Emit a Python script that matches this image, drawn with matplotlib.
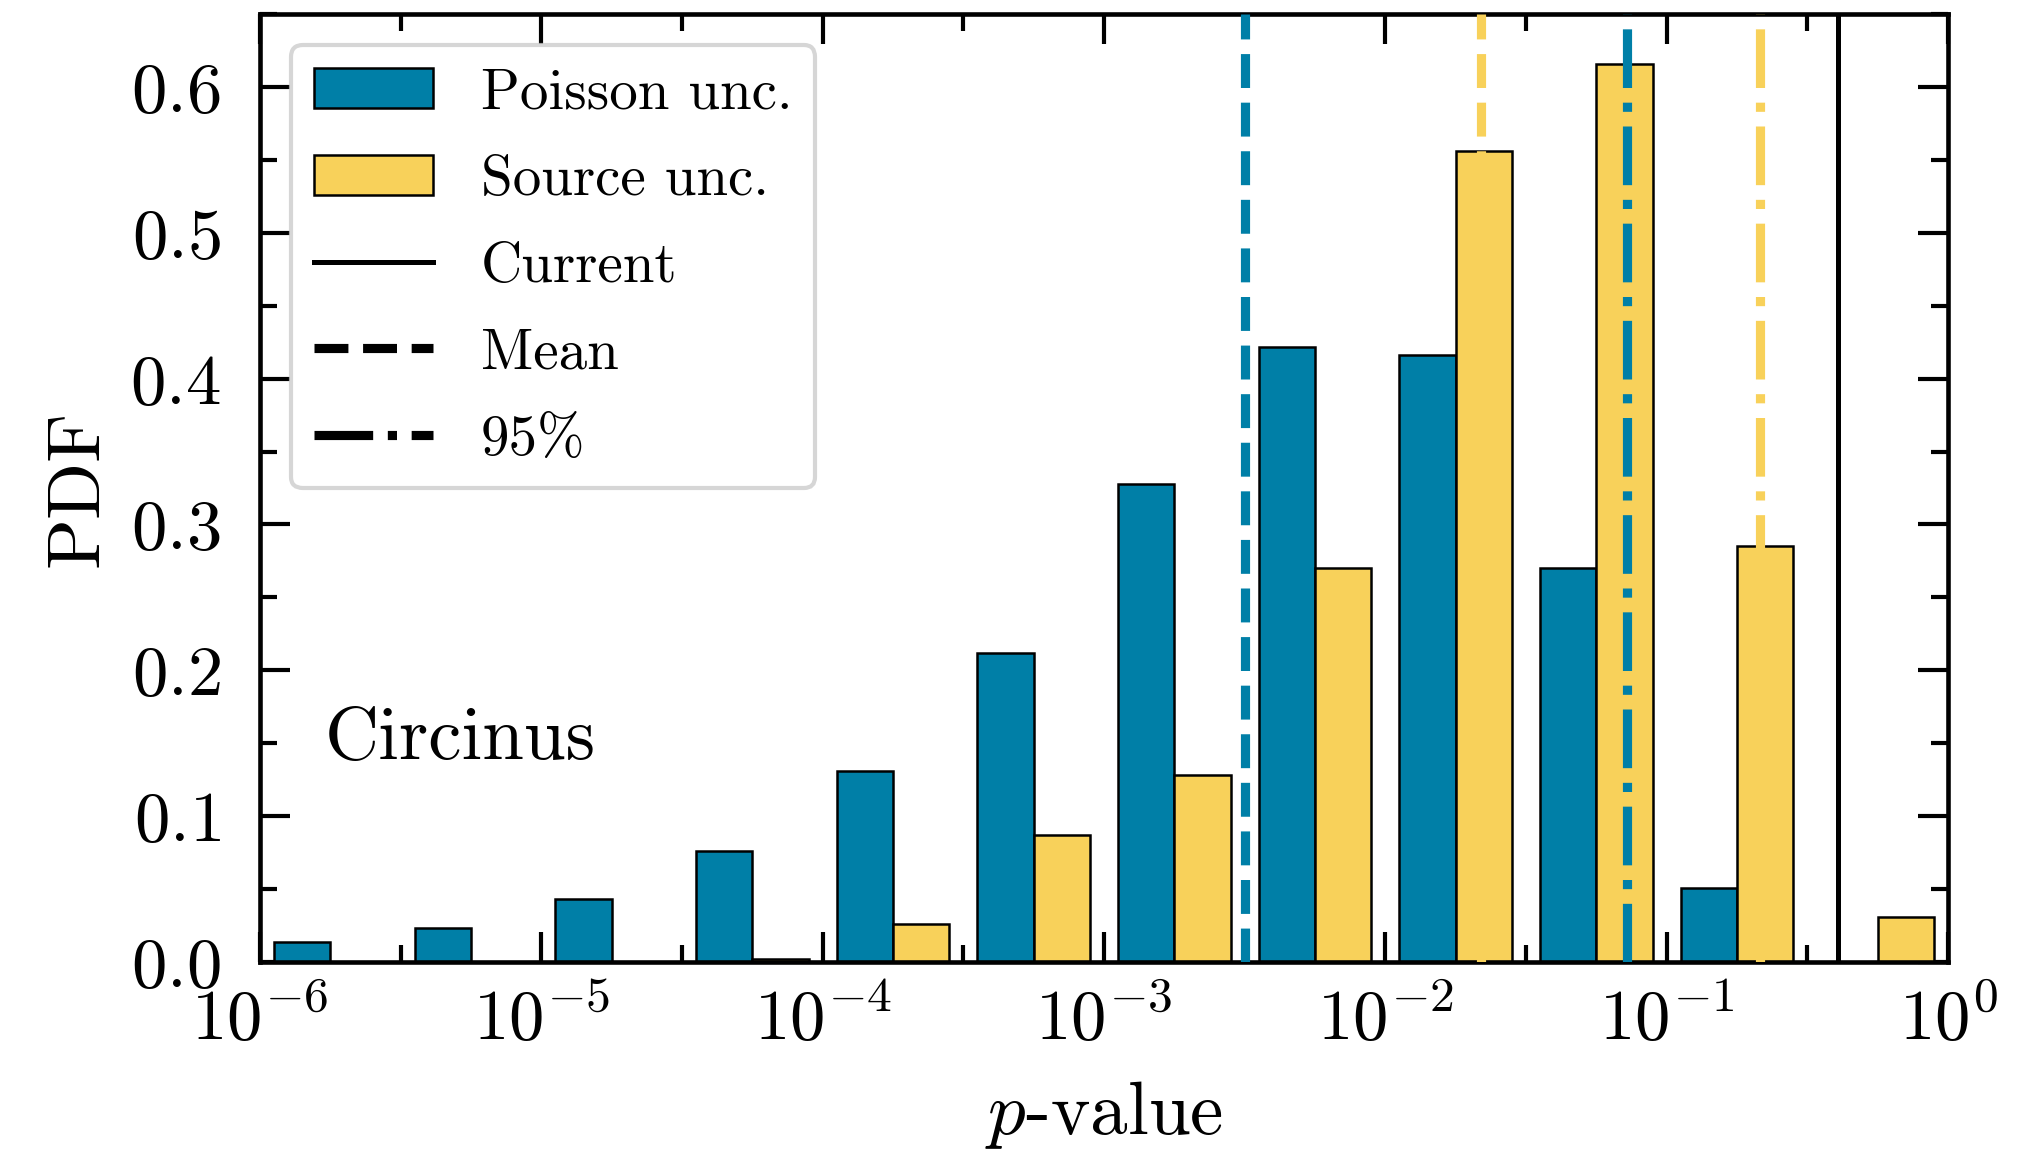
import numpy as np
import matplotlib
matplotlib.use('Agg')
import matplotlib.pyplot as plt
from matplotlib.lines import Line2D
from matplotlib.patches import Patch
from matplotlib.ticker import FixedLocator, MultipleLocator, NullFormatter

plt.rcParams['font.family'] = 'serif'
plt.rcParams['font.serif'] = ['cmr10']
plt.rcParams['mathtext.fontset'] = 'cm'
plt.rcParams['axes.formatter.use_mathtext'] = True
plt.rcParams['axes.unicode_minus'] = True

# log10 bin edges (half a decade each)
log_bins = np.arange(-6, 0.01, 0.5)

# PDF per bin
poisson_pdf = [0.014, 0.023, 0.043, 0.076, 0.131, 0.212, 0.328, 0.422, 0.416, 0.270, 0.051, 0.0]
source_pdf = [0.0, 0.0, 0.0, 0.002, 0.026, 0.087, 0.128, 0.270, 0.556, 0.616, 0.285, 0.031]

p_current = 0.405
p_mean = {'poisson': 3.18e-3, 'source': 0.0219}
p_95 = {'poisson': 0.0721, 'source': 0.215}

c_blue = '#007fa7'
c_yellow = '#f8d15a'

fig = plt.figure(figsize=(2019 / 300, 1154 / 300), dpi=300)
ax = fig.add_axes([260 / 2019, 1 - 962 / 1154, (1948 - 260) / 2019, (962 - 14) / 1154])
ax.set_xscale('log')

lo = log_bins[:-1]
w = log_bins[1] - log_bins[0]
# two bars per bin, 80% of the bin width in log space
b_left, b_mid, b_right = 10 ** (lo + 0.1 * w), 10 ** (lo + 0.5 * w), 10 ** (lo + 0.9 * w)
ax.bar(b_left, poisson_pdf, width=b_mid - b_left, align='edge', color=c_blue,
       edgecolor='k', linewidth=0.6, zorder=2)
ax.bar(b_mid, source_pdf, width=b_right - b_mid, align='edge', color=c_yellow,
       edgecolor='k', linewidth=0.6, zorder=2)

ax.axvline(p_current, color='k', lw=1.2, zorder=3)
ax.axvline(p_mean['poisson'], color=c_blue, ls='--', lw=2.2, zorder=3)
ax.axvline(p_mean['source'], color=c_yellow, ls='--', lw=2.2, zorder=3)
ax.axvline(p_95['poisson'], color=c_blue, ls='-.', lw=2.2, zorder=3)
ax.axvline(p_95['source'], color=c_yellow, ls='-.', lw=2.2, zorder=3)

ax.set_xlim(1e-6, 1)
ax.set_ylim(0, 0.65)

ax.xaxis.set_minor_locator(FixedLocator(10 ** (np.arange(-6, 0) + 0.5)))
ax.xaxis.set_minor_formatter(NullFormatter())
ax.yaxis.set_major_locator(MultipleLocator(0.1))
ax.yaxis.set_minor_locator(MultipleLocator(0.05))
ax.tick_params(which='both', direction='in', top=True, right=True, width=1.0,
               labelsize=17)
ax.tick_params(which='major', length=7.2)
ax.tick_params(axis='x', which='major', pad=6)
ax.tick_params(axis='y', which='major', pad=9.5)
ax.tick_params(which='minor', length=4.0)
for s in ax.spines.values():
    s.set_linewidth(1.1)

ax.set_xlabel(r'$p$-value', fontsize=18, labelpad=6)
ax.set_ylabel('PDF', fontsize=18, labelpad=4)

ax.text(10 ** -5.77, 0.152, 'Circinus', fontsize=18, va='center', ha='left')

handles = [
    Patch(facecolor=c_blue, edgecolor='k', linewidth=0.6),
    Patch(facecolor=c_yellow, edgecolor='k', linewidth=0.6),
    Line2D([], [], color='k', lw=1.2),
    Line2D([], [], color='k', ls='--', lw=2.2),
    Line2D([], [], color='k', ls='-.', lw=2.2),
]
labels = ['Poisson unc.', 'Source unc.', 'Current', 'Mean', '95%']
ax.legend(handles, labels, loc='upper left', fontsize=13.7, framealpha=0.8,
          borderaxespad=0.55, handlelength=2.08, handletextpad=0.84,
          labelspacing=0.62)

fig.savefig('out.png', dpi=300)
